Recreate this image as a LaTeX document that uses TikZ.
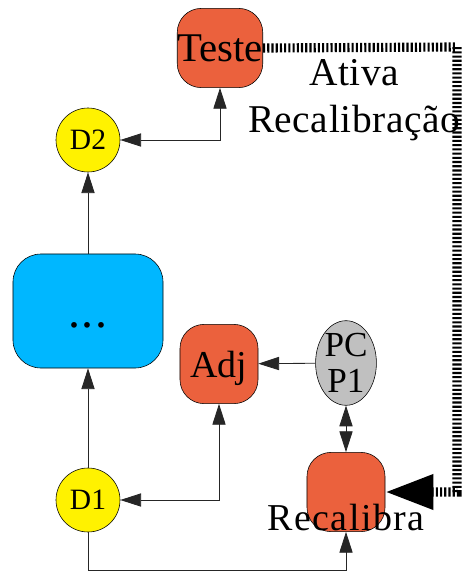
\documentclass[tikz,border=0pt]{standalone}
\usepackage{fontspec}
\setmainfont{Liberation Serif}
\usetikzlibrary{shapes.geometric,arrows.meta}
\definecolor{tomate}{RGB}{235,97,61}
\definecolor{ceu}{RGB}{0,183,255}
\definecolor{cinza}{RGB}{192,192,192}
\tikzset{
  bloco/.style={draw,thin,fill=tomate,rounded corners=0.6cm,minimum width=1.95cm,minimum height=1.98cm,inner sep=0pt,text depth=0pt},
  disco/.style={draw,thin,circle,fill=yellow,minimum size=1.6cm,inner sep=0pt,font=\fontsize{21}{24}\selectfont},
  liga/.style={draw=black!85,line width=0.6pt},
  ativa/.style={line width=6.5pt,dash pattern=on 1.5pt off 1.5pt,-{Triangle[length=1.2cm,width=0.83cm]}}
}

\begin{document}
\begin{tikzpicture}[x=0.025cm,y=-0.025cm,>={Triangle[length=0.52cm,width=0.33cm]}]
\useasboundingbox (0,0) rectangle (464,572);

\node[bloco,font=\fontsize{29}{33}\selectfont] (teste) at (220,48) {Teste};
\node[disco] (d2) at (88,140) {D2};
\node[draw,thin,fill=ceu,rounded corners=0.7cm,minimum width=3.75cm,minimum height=2.85cm,
  text height=26pt,text depth=3pt,font=\fontsize{34}{36}\selectfont] (meio) at (88,311) {.\kern0.03em.\kern0.03em.};
\node[bloco,font=\fontsize{27}{30}\selectfont] (adj) at (219,364) {Adj};
\node[draw,thin,ellipse,fill=cinza,minimum width=1.4cm,minimum height=1.83cm,inner sep=0pt,
  align=center,font=\fontsize{25}{26}\selectfont] (pcp) at (346,363) {PC\\P1};
\node[bloco] (recal) at (346,492) {};
\node[anchor=base,font=\fontsize{27}{30}\selectfont\addfontfeature{LetterSpace=4}] (recaltxt) at (346,530) {Recalibra};
\node[disco] (d1) at (88,500) {D1};
\node[align=center,font=\fontsize{28}{33}\selectfont\addfontfeature{LetterSpace=1.5}] (ativatxt) at (354,100) {Ativa\\Recalibração};

\coordinate (c1) at (457,47);
\coordinate (c2) at (457,492);
\coordinate (fundo) at (346,570);

\draw[liga,->] (meio) -- (d2);
\draw[liga,->] (d1) -- (meio);
\draw[liga,<->] (d2) -| (teste);
\draw[liga,<->] (d1) -| (adj);
\draw[liga,->] (pcp) -- (adj);
\draw[liga,<->] (pcp) -- (recal);
\draw[liga,->] (d1.south) |- (fundo) -- (recal.south);
\draw[ativa] (teste.east) -- (c1) -- (c2) -- (recal.east);
\end{tikzpicture}
\end{document}
